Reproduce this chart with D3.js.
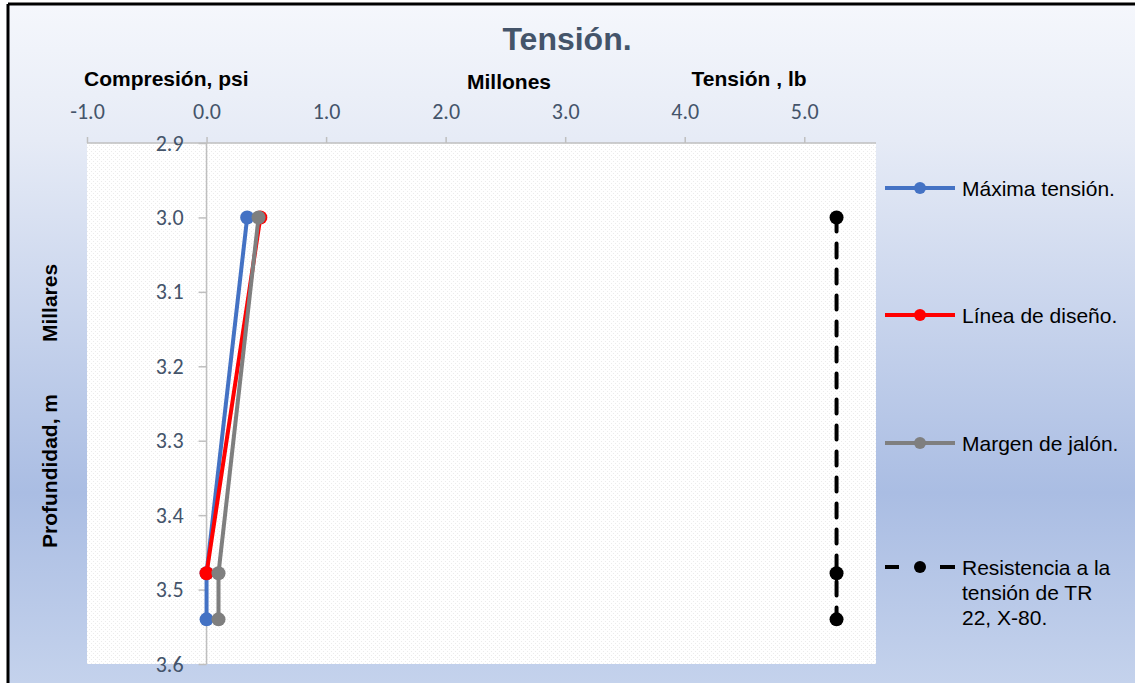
<!DOCTYPE html>
<html>
<head>
<meta charset="utf-8">
<script src="https://cdnjs.cloudflare.com/ajax/libs/d3/7.8.5/d3.min.js"></script>
<style>
    body { margin: 0; background: #fff; }
    .tick-label { font-family: Carlito, Lato, "Liberation Sans", sans-serif; font-size: 22px; fill: #44546a; }
    .axis-title { font-family: "Liberation Sans", Arial, sans-serif; font-size: 21px; font-weight: bold; fill: #000; }
    .legend-text { font-family: "Liberation Sans", Arial, sans-serif; font-size: 21px; fill: #000; }
</style>
</head>
<body>
<div id="chart"></div>
<script>
//----------------------------
// Data
//----------------------------
var seriesNames = ["Máxima tensión.", "Línea de diseño.", "Margen de jalón.", "Resistencia a la tensión de TR 22, X-80."];
var seriesColors = ["#4472c4", "#ff0000", "#7f7f7f", "#000000"];

// tension (millions lb) and depth (thousands m)
var maxTensionX = [0.34, 0.0, 0.0];
var maxTensionY = [3.0, 3.478, 3.54];
var designX = [0.45, 0.0];
var designY = [3.0, 3.478];
var pullMarginX = [0.435, 0.1, 0.1];
var pullMarginY = [3.0, 3.478, 3.54];
var resistX = [5.27, 5.27, 5.27];
var resistY = [3.0, 3.478, 3.54];

var xTicks = [-1, 0, 1, 2, 3, 4, 5];
var yTicks = [2.9, 3.0, 3.1, 3.2, 3.3, 3.4, 3.5, 3.6];

var W = 1135, H = 683;
var margin = {top: 143, right: 259, bottom: 19, left: 87},
    pWidth = W - margin.left - margin.right,
    pHeight = H - margin.top - margin.bottom;

var svg = d3.select("#chart")
    .append("svg")
    .attr("width", W)
    .attr("height", H);

// background gradient
var defs = svg.append("defs");
var grad = defs.append("linearGradient")
    .attr("id", "bg")
    .attr("x1", 0).attr("y1", 0).attr("x2", 0).attr("y2", 1);
grad.append("stop").attr("offset", "0%").attr("stop-color", "#f5f7fc");
grad.append("stop").attr("offset", "20%").attr("stop-color", "#e6ebf6");
grad.append("stop").attr("offset", "72%").attr("stop-color", "#aabde3");
grad.append("stop").attr("offset", "100%").attr("stop-color", "#c4d2ec");

// faint dotted pattern for the plot area
var pat = defs.append("pattern")
    .attr("id", "dots")
    .attr("width", 4).attr("height", 4)
    .attr("patternUnits", "userSpaceOnUse");
pat.append("rect").attr("width", 4).attr("height", 4).attr("fill", "#ffffff");
pat.append("rect").attr("x", 0).attr("y", 0).attr("width", 1).attr("height", 1).attr("fill", "#ececec");
pat.append("rect").attr("x", 2).attr("y", 2).attr("width", 1).attr("height", 1).attr("fill", "#ececec");

svg.append("rect")
    .attr("x", 8).attr("y", 4)
    .attr("width", W - 8).attr("height", H - 4)
    .attr("fill", "url(#bg)");

// outer frame lines (top and left)
svg.append("line").attr("x1", 8).attr("x2", W).attr("y1", 4).attr("y2", 4)
    .attr("stroke", "#000").attr("stroke-width", 3);
svg.append("line").attr("x1", 8).attr("x2", 8).attr("y1", 4).attr("y2", H)
    .attr("stroke", "#000").attr("stroke-width", 3);

var g = svg.append("g")
    .attr("transform", "translate(" + margin.left + "," + margin.top + ")");

g.append("rect")
    .attr("width", pWidth).attr("height", pHeight)
    .attr("fill", "url(#dots)");

//----------------------------
// Scales
//----------------------------
var xScale = d3.scaleLinear().domain([-1.0, 5.6]).range([0, pWidth]);
var yScale = d3.scaleLinear().domain([2.9, 3.6]).range([0, pHeight]);

// plain hyphen for negatives, as in the original
var fmt = d => d.toFixed(1);

// top axis (horizontal line at depth 2.9)
var xAxis = d3.axisTop(xScale)
    .tickValues(xTicks)
    .tickSize(6)
    .tickPadding(18)
    .tickFormat(fmt);

var gx = g.append("g").call(xAxis);
gx.select(".domain").attr("stroke", "#bfbfbf").attr("stroke-width", 1.5)
    .attr("d", "M0,0H" + pWidth);
gx.selectAll(".tick line").attr("stroke", "#bfbfbf").attr("stroke-width", 1.5);
gx.selectAll(".tick text").attr("class", "tick-label").attr("fill", null);

// vertical axis crossing at x = 0
var yAxis = d3.axisLeft(yScale)
    .tickValues(yTicks)
    .tickSize(8)
    .tickPadding(15)
    .tickFormat(fmt);

var gy = g.append("g")
    .attr("transform", "translate(" + xScale(0) + ",0)")
    .call(yAxis);
gy.select(".domain").attr("stroke", "#bfbfbf").attr("stroke-width", 1.5)
    .attr("d", "M0,0V" + pHeight);
gy.selectAll(".tick line").attr("stroke", "#bfbfbf").attr("stroke-width", 1.5);
gy.selectAll(".tick text").attr("class", "tick-label").attr("fill", null);

//----------------------------
// Series
//----------------------------
function toPoints(xs, ys) {
    return xs.map((x, i) => ({x: x, y: ys[i]}));
}
var series = [
    {name: seriesNames[0], color: seriesColors[0], pts: toPoints(maxTensionX, maxTensionY), dash: null},
    {name: seriesNames[1], color: seriesColors[1], pts: toPoints(designX, designY), dash: null},
    {name: seriesNames[2], color: seriesColors[2], pts: toPoints(pullMarginX, pullMarginY), dash: null},
    {name: seriesNames[3], color: seriesColors[3], pts: toPoints(resistX, resistY), dash: "14,12"}
];

var line = d3.line().x(d => xScale(d.x)).y(d => yScale(d.y));

series.forEach(function (s) {
    g.append("path")
        .datum(s.pts)
        .attr("d", line)
        .attr("fill", "none")
        .attr("stroke", s.color)
        .attr("stroke-width", 4)
        .attr("stroke-linecap", "round")
        .attr("stroke-dasharray", s.dash);
    g.selectAll(null)
        .data(s.pts)
        .enter().append("circle")
        .attr("cx", d => xScale(d.x))
        .attr("cy", d => yScale(d.y))
        .attr("r", 7)
        .attr("fill", s.color);
});

//----------------------------
// Titles
//----------------------------
svg.append("text")
    .attr("x", 567).attr("y", 50)
    .attr("text-anchor", "middle")
    .style("font-family", "'Liberation Sans', Arial, sans-serif")
    .style("font-size", "32px")
    .style("font-weight", "bold")
    .style("fill", "#44546a")
    .text("Tensión.");

svg.append("text").attr("class", "axis-title")
    .attr("x", 84).attr("y", 86).text("Compresión, psi");
svg.append("text").attr("class", "axis-title")
    .attr("x", 509).attr("y", 89).attr("text-anchor", "middle").text("Millones");
svg.append("text").attr("class", "axis-title")
    .attr("x", 749).attr("y", 86).attr("text-anchor", "middle").text("Tensión , lb");

svg.append("text").attr("class", "axis-title")
    .attr("transform", "translate(57,303) rotate(-90)")
    .attr("text-anchor", "middle").text("Millares");
svg.append("text").attr("class", "axis-title")
    .attr("transform", "translate(57,471) rotate(-90)")
    .attr("text-anchor", "middle").text("Profundidad, m");

//----------------------------
// Legend
//----------------------------
var legendY = [188, 315, 443, 567];
var legendLines = [["Máxima tensión."], ["Línea de diseño."], ["Margen de jalón."], ["Resistencia a la", "tensión de TR", "22, X-80."]];

var legend = svg.append("g").attr("class", "legend");
series.forEach(function (s, i) {
    var ly = legendY[i];
    legend.append("line")
        .attr("x1", 885).attr("x2", 955)
        .attr("y1", ly).attr("y2", ly)
        .attr("stroke", s.color)
        .attr("stroke-width", 4)
        .attr("stroke-dasharray", s.dash ? "14,41" : null);
    if (s.dash) {
        legend.append("line")
            .attr("x1", 940).attr("x2", 955)
            .attr("y1", ly).attr("y2", ly)
            .attr("stroke", s.color).attr("stroke-width", 4);
    }
    legend.append("circle")
        .attr("cx", 920).attr("cy", ly).attr("r", 6)
        .attr("fill", s.color);
    legend.selectAll(null)
        .data(legendLines[i])
        .enter().append("text")
        .attr("class", "legend-text")
        .attr("x", 962)
        .attr("y", (d, j) => ly + 8 + j * 25)
        .text(d => d);
});
</script>
</body>
</html>
